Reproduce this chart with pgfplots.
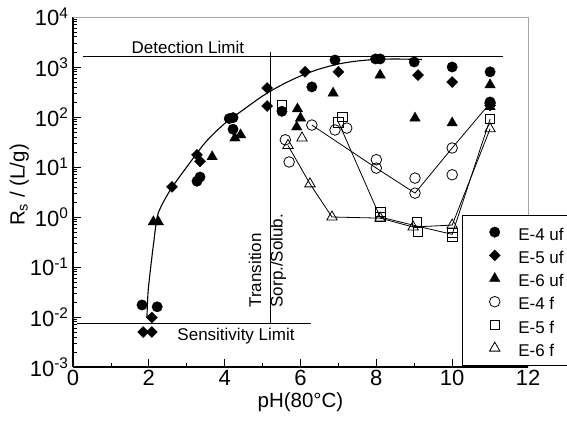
\documentclass[border=0pt]{standalone}
\usepackage{fontspec}
\setmainfont{Liberation Sans}
\usepackage{pgfplots}
\pgfplotsset{compat=1.18}
\newcommand{\lstrut}{\rule[-6pt]{0pt}{23.7pt}}
\begin{document}
\begin{tikzpicture}
\begin{axis}[
  scale only axis, width=455pt, height=350pt,
  xmin=0, xmax=12, ymode=log, ymin=1e-3, ymax=1e4,
  axis lines*=left, axis line style={line width=1.4pt,-},
  xtick={0,2,...,12}, minor xtick={1,3,...,11},
  ytick={1e-3,1e-2,1e-1,1,10,100,1000,10000},
  yticklabels={10\textsuperscript{-3},10\textsuperscript{-2},10\textsuperscript{-1},10\textsuperscript{0},10\textsuperscript{1},10\textsuperscript{2},10\textsuperscript{3},10\textsuperscript{4}},
  minor ytick={0.002,0.003,0.004,0.005,0.006,0.007,0.008,0.009,
    0.02,0.03,0.04,0.05,0.06,0.07,0.08,0.09,
    0.2,0.3,0.4,0.5,0.6,0.7,0.8,0.9,
    2,3,4,5,6,7,8,9,20,30,40,50,60,70,80,90,
    200,300,400,500,600,700,800,900,2000,3000,4000,5000,6000,7000,8000,9000},
  tick align=inside, major tick length=8pt, minor tick length=4pt,
  tick style={black, line width=0.8pt},
  ticklabel style={font=\fontsize{22}{22}\selectfont},
  yticklabel style={xshift=-1pt},
  /pgf/number format/assume math mode=true,
  xlabel={pH(80°C)}, ylabel={R\textsubscript{s} / (L/g)},
  label style={font=\fontsize{20.5}{20.5}\selectfont},
  xlabel style={at={(axis description cs:0.5,-0.1)}, anchor=center},
  ylabel style={at={(axis description cs:-0.118,0.52)}, anchor=center},
  legend style={at={(rel axis cs:0.855,0.006)}, anchor=south west,
    draw=black, fill=white, font=\fontsize{17}{19}\selectfont,
    inner xsep=27pt, inner ysep=5pt, row sep=0pt,
    /tikz/every odd column/.append style={column sep=16pt}},
  legend cell align=left,
  clip=false,
]
% filled markers
\addplot[only marks, mark=*, mark size=5.2pt, black] coordinates {
 (1.82,0.0174) (2.22,0.016) (3.27,5.2) (3.35,6.3) (4.12,93) (4.22,97) (4.22,57)
 (5.51,130) (6.3,400) (6.91,1380) (7.98,1450) (8.1,1450) (9.0,1260) (10.0,1000)
 (11.0,800) (11.0,200)};
\addlegendentry{\lstrut E-4 uf}
\addplot[only marks, mark=square*, mark size=3.9pt, mark options={rotate=45}, black] coordinates {
 (1.85,0.005) (2.08,0.005) (2.08,0.0098) (2.61,4.0) (3.27,17.5) (3.35,13)
 (5.12,380) (5.12,166) (6.12,800) (7.0,800) (9.1,690) (10.0,500) (11.0,170)};
\addlegendentry{\lstrut E-5 uf}
\addplot[only marks, mark=triangle*, mark size=6pt, black] coordinates {
 (2.12,0.8) (2.25,0.8) (3.67,16) (4.27,38) (4.42,44) (5.92,145) (6.0,95) (5.9,63)
 (6.86,300) (8.1,690) (9.02,95) (10.0,76) (11.0,440) (11.0,160)};
\addlegendentry{\lstrut E-6 uf}
% open markers
\addplot[only marks, mark=o, mark size=5.3pt, black, mark options={line width=0.8pt}] coordinates {
 (5.6,35) (5.7,12.6) (6.3,69) (6.91,55) (7.22,60) (8.0,14) (8.0,9.5)
 (9.02,6) (9.02,3) (10.0,24) (10.0,7) (11.0,190)};
\addlegendentry{\lstrut E-4 f}
\addplot[only marks, mark=square, mark size=4.8pt, black, mark options={line width=0.8pt}] coordinates {
 (5.51,174) (7.1,100) (7.0,79) (8.1,1.26) (8.1,1.0) (9.07,0.8) (9.1,0.5)
 (10.0,0.48) (10.0,0.4) (11.0,91)};
\addlegendentry{\lstrut E-5 f}
\addplot[only marks, mark=triangle, mark size=6pt, black, mark options={line width=0.8pt}] coordinates {
 (5.67,27) (6.04,38) (6.25,4.6) (6.83,1.0) (8.1,0.95) (8.97,0.63) (10.0,0.69) (11.0,58)};
\addlegendentry{\lstrut E-6 f}
% connecting lines
\addplot[black, line width=0.8pt, no marks, forget plot] coordinates {
 (6.3,69) (8.0,9.5) (9.02,3) (10.0,24) (11.0,190)};
\addplot[black, line width=0.8pt, no marks, forget plot] coordinates {
 (7.0,79) (8.1,1.0) (9.1,0.65) (10.0,0.45) (11.0,91)};
\addplot[black, line width=0.8pt, no marks, forget plot] coordinates {
 (5.67,27) (6.25,4.6) (6.83,1.0) (8.1,0.95) (8.97,0.63) (10.0,0.69) (11.0,58)};
% fitted curve
\addplot[black, line width=1.1pt, smooth, no marks, forget plot] coordinates {
 (1.95,0.01) (1.98,0.0316) (2.05,0.1) (2.13,0.316) (2.22,1) (2.35,1.78)
 (2.6,3.8) (3.0,10) (3.5,31.6) (4.0,74) (4.5,141) (5.0,263) (5.5,437)
 (6.0,661) (6.5,912) (7.0,1148) (7.5,1318) (8.0,1413) (8.5,1445) (9.2,1413)};
% limit lines
\addplot[black, line width=0.8pt, no marks, forget plot] coordinates {(0.26,1660) (11.33,1660)};
\addplot[black, line width=0.8pt, no marks, forget plot] coordinates {(0.1,0.0076) (6.28,0.0076)};
\addplot[black, line width=0.8pt, no marks, forget plot] coordinates {(5.2,0.0076) (5.2,2000)};
\node[font=\fontsize{17}{17}\selectfont] at (axis cs:3.03,2500) {Detection Limit};
\node[font=\fontsize{17}{17}\selectfont] at (axis cs:4.3,0.0041) {Sensitivity Limit};
\node[font=\fontsize{17}{17}\selectfont, rotate=90, anchor=west] at (axis cs:4.8,0.0132) {Transition};
\node[font=\fontsize{17}{17}\selectfont, rotate=90, anchor=west] at (axis cs:5.41,0.0132) {Sorp./Solub.};
\draw[gray!70, line width=0.7pt] (rel axis cs:0,1) -- (rel axis cs:1,1) -- (rel axis cs:1,0);
\coordinate (bl) at (rel axis cs:0,0);
\coordinate (tr) at (rel axis cs:1,1);
\end{axis}
\pgfresetboundingbox
\path[use as bounding box] ([xshift=-73pt,yshift=-67pt]bl) rectangle ([xshift=39pt,yshift=17pt]tr);
\end{tikzpicture}
\end{document}
